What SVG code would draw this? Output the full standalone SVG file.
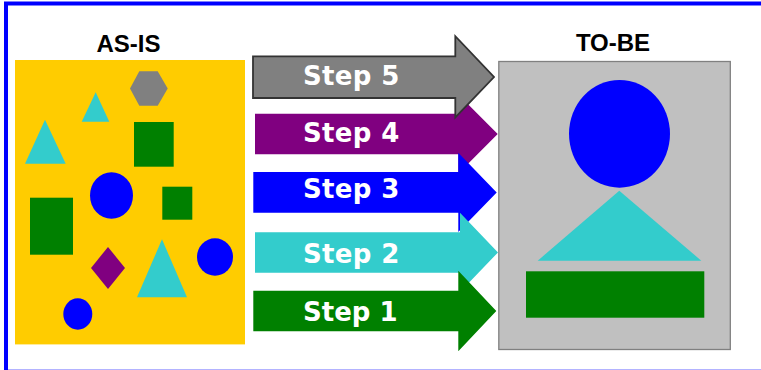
<svg xmlns="http://www.w3.org/2000/svg" width="761" height="370" viewBox="0 0 761 370">
<style>
.title{font-family:"Liberation Sans",Arial,sans-serif;font-weight:700;font-size:24px;fill:#000;text-anchor:middle}
.step{font-family:"DejaVu Sans",sans-serif;font-weight:700;font-size:26px;fill:#fff;letter-spacing:.35px}
.g{fill:#008000}.b{fill:#0000ff}.c{fill:#33cccc}.p{fill:#800080}.y{fill:#808080}
</style>
<rect width="761" height="370" fill="#fff"/>
<rect id="frame" x="6" y="3.5" width="800" height="368.2" fill="none" stroke="#0000ff" stroke-width="4"/>
<g id="as-is">
<text class="title" x="128.5" y="51.7">AS-IS</text>
<rect x="15" y="60" width="230" height="284.4" fill="#ffcc00"/>
<polygon class="y" points="130,88.5 139.3,71.3 157.7,71.3 167.7,88.5 157.7,105.7 139.3,105.7"/>
<polygon class="c" points="95.7,92.3 109.3,121.7 81.7,121.7"/>
<polygon class="c" points="45,119.7 65.7,163.7 25,163.7"/>
<rect class="g" x="134" y="122" width="39.7" height="44.7"/>
<ellipse class="b" cx="111.5" cy="195.5" rx="21.5" ry="23.2"/>
<rect class="g" x="162.3" y="186.7" width="30" height="33"/>
<rect class="g" x="30" y="197.7" width="43" height="57"/>
<polygon class="p" points="108,247 125,268 108,289 91,268"/>
<polygon class="c" points="162,239.3 187,297.3 137,297.3"/>
<ellipse class="b" cx="215" cy="257" rx="18" ry="18.7"/>
<ellipse class="b" cx="77.8" cy="314" rx="14.5" ry="15.7"/>
</g>
<g id="to-be">
<text class="title" x="613" y="51">TO-BE</text>
<rect x="498.8" y="61.5" width="231.5" height="288" fill="#c0c0c0" stroke="#808080" stroke-width="1.3"/>
<ellipse class="b" cx="619.5" cy="133.8" rx="50.5" ry="53.9"/>
<polygon class="c" points="619.3,190.7 701.3,260.7 537.7,260.7"/>
<rect class="g" x="526" y="271.3" width="178.3" height="46.4"/>
</g>
<g id="connectors">
<g id="step-4">
<polygon class="p" points="255,113.7 458.3,113.7 458.3,94.5 497.7,134 458.3,173.5 458.3,154.3 255,154.3"/>
<text class="step" x="303" y="141.7">Step 4</text>
</g>
<g id="step-3">
<polygon class="b" points="253.3,172 458.3,172 458.3,152.7 496.7,192.4 458.3,232 458.3,212.7 253.3,212.7"/>
<text class="step" x="303" y="198">Step 3</text>
</g>
<g id="step-2">
<polygon class="c" points="255,232.3 460,232.3 460,212.7 498,252.4 460,292 460,272.7 255,272.7"/>
<text class="step" x="303" y="263">Step 2</text>
</g>
<g id="step-1">
<polygon class="g" points="253.3,290.7 458.3,290.7 458.3,270.7 496.3,311 458.3,351.3 458.3,331.3 253.3,331.3"/>
<text class="step" x="303" y="320.7" style="letter-spacing:0">Step 1</text>
</g>
<g id="step-5">
<polygon class="y" stroke="#333333" stroke-width="1.8" points="253,56.3 455.3,56.3 455.3,36.2 494,77 455.3,117.4 455.3,98 253,98"/>
<text class="step" x="303" y="85">Step 5</text>
</g>
</g>
</svg>
